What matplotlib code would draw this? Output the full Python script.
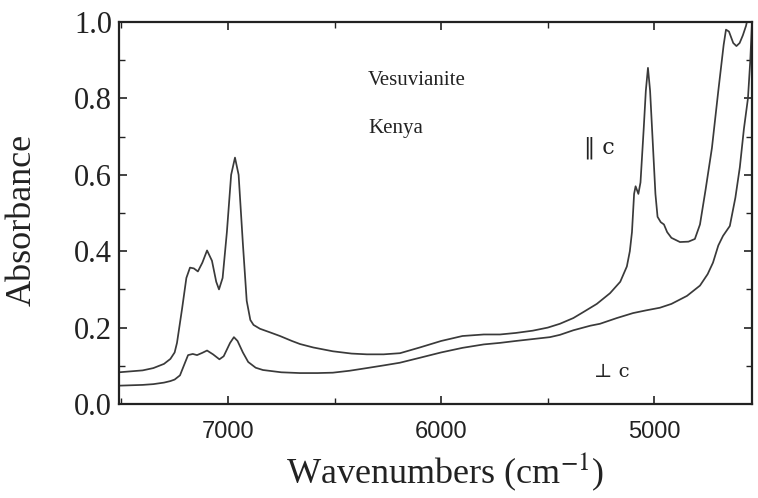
import numpy as np
import matplotlib.pyplot as plt
from matplotlib.ticker import MultipleLocator

# E || c spectrum
x_par = [7511, 7400, 7350, 7300, 7270, 7250, 7239, 7215, 7195, 7178, 7160, 7141, 7120, 7098,
         7075, 7055, 7042, 7025, 7005, 6985, 6967, 6950, 6930, 6912, 6895, 6880,
         6850, 6800, 6756, 6700, 6662, 6600, 6508, 6420, 6348, 6270, 6193, 6100,
         6000, 5900, 5800, 5724, 5650, 5570, 5500, 5443, 5380, 5335, 5270, 5208,
         5160, 5129, 5115, 5105, 5095, 5088, 5075, 5065, 5050, 5040, 5030, 5020,
         5007, 4995, 4985, 4970, 4955, 4940, 4920, 4880, 4840, 4810, 4786, 4760,
         4730, 4700, 4675, 4664, 4650, 4630, 4615, 4600, 4585, 4570, 4562]
y_par = [0.083, 0.088, 0.094, 0.105, 0.118, 0.135, 0.16, 0.25, 0.33, 0.357, 0.355, 0.347, 0.37, 0.402,
         0.375, 0.32, 0.30, 0.33, 0.45, 0.6, 0.645, 0.6, 0.42, 0.27, 0.22, 0.207,
         0.197, 0.187, 0.178, 0.165, 0.157, 0.148, 0.138, 0.132, 0.130, 0.130, 0.133, 0.148,
         0.165, 0.178, 0.182, 0.182, 0.186, 0.192, 0.2, 0.21, 0.225, 0.240, 0.262, 0.29,
         0.32, 0.36, 0.40, 0.45, 0.55, 0.57, 0.55, 0.58, 0.72, 0.82, 0.88, 0.82,
         0.68, 0.55, 0.49, 0.476, 0.47, 0.45, 0.435, 0.424, 0.425, 0.432, 0.47, 0.56,
         0.67, 0.82, 0.94, 0.98, 0.975, 0.945, 0.937, 0.945, 0.965, 0.99, 1.01]

# E perp c spectrum
x_perp = [7511, 7400, 7350, 7300, 7270, 7250, 7225, 7200, 7187, 7165, 7145, 7120, 7098, 7070,
          7040, 7020, 6990, 6972, 6955, 6930, 6905, 6870, 6836, 6750, 6663, 6580,
          6508, 6430, 6349, 6270, 6194, 6100, 6000, 5900, 5800, 5724, 5650, 5570,
          5490, 5443, 5380, 5300, 5255, 5176, 5100, 5040, 4974, 4920, 4847, 4786,
          4750, 4725, 4700, 4678, 4646, 4620, 4599, 4580, 4561, 4550, 4542]
y_perp = [0.048, 0.050, 0.052, 0.056, 0.060, 0.064, 0.075, 0.11, 0.128, 0.131, 0.128, 0.134, 0.140, 0.13,
          0.117, 0.125, 0.16, 0.175, 0.165, 0.135, 0.11, 0.095, 0.089, 0.083, 0.081, 0.081,
          0.082, 0.087, 0.094, 0.101, 0.108, 0.121, 0.135, 0.147, 0.156, 0.160, 0.165, 0.17,
          0.175, 0.181, 0.193, 0.205, 0.21, 0.225, 0.238, 0.245, 0.252, 0.262, 0.283, 0.31,
          0.34, 0.37, 0.415, 0.44, 0.466, 0.54, 0.62, 0.72, 0.80, 0.9, 1.0]

plt.rcParams['font.family'] = ['Liberation Serif', 'DejaVu Serif']
plt.rcParams['mathtext.fontset'] = 'stix'

fig = plt.figure(figsize=(7.58, 4.98), dpi=100)
ax = fig.add_axes([119/758, 1-404/498, 633/758, 382/498])

lc = '#3a3a3a'
ax.plot(x_par, y_par, color=lc, lw=1.25)
ax.plot(x_perp, y_perp, color=lc, lw=1.25)

ax.set_xlim(7511, 4542)
ax.set_ylim(0, 1.0)
ax.xaxis.set_major_locator(MultipleLocator(1000))
ax.xaxis.set_minor_locator(MultipleLocator(500))
ax.yaxis.set_major_locator(MultipleLocator(0.2))
ax.yaxis.set_minor_locator(MultipleLocator(0.1))
ax.yaxis.set_major_formatter(plt.FuncFormatter(lambda v, p: '%.1f' % v))

for s in ax.spines.values():
    s.set_linewidth(1.6)
    s.set_color('#222222')
ax.tick_params(which='both', direction='in', top=True, right=True, color='#222222')
ax.tick_params(which='major', length=6, width=1.2)
ax.tick_params(which='minor', length=4, width=1.0)
ax.tick_params(axis='y', labelsize=22, pad=5, labelcolor='#222222')
ax.tick_params(axis='x', labelsize=17, pad=12, labelcolor='#222222')
for lab in ax.get_xticklabels():
    lab.set_family(['Liberation Sans Narrow', 'Liberation Sans'])

fig.text(22/758, 1-220/498, 'Absorbance', rotation=90, ha='center', va='center',
         fontsize=26, color='#222222')
fig.text(445/758, 1-472/498, 'Wavenumbers (cm$^{-1}$)', ha='center', va='center',
         fontsize=26, color='#222222')

ax.text(6343, 0.848, 'Vesuvianite', fontsize=15, va='center', ha='left', color='#222222')
ax.text(6343, 0.722, 'Kenya', fontsize=15, va='center', ha='left', color='#222222')
ax.text(5330, 0.67, '\u2016 c', fontsize=16, va='center', ha='left', color='#222222',
        family=['DejaVu Serif'])
ax.text(5285, 0.084, '\u22a5 c', fontsize=14, va='center', ha='left', color='#222222',
        family=['DejaVu Serif'])

fig.savefig('out.png', dpi=100)
